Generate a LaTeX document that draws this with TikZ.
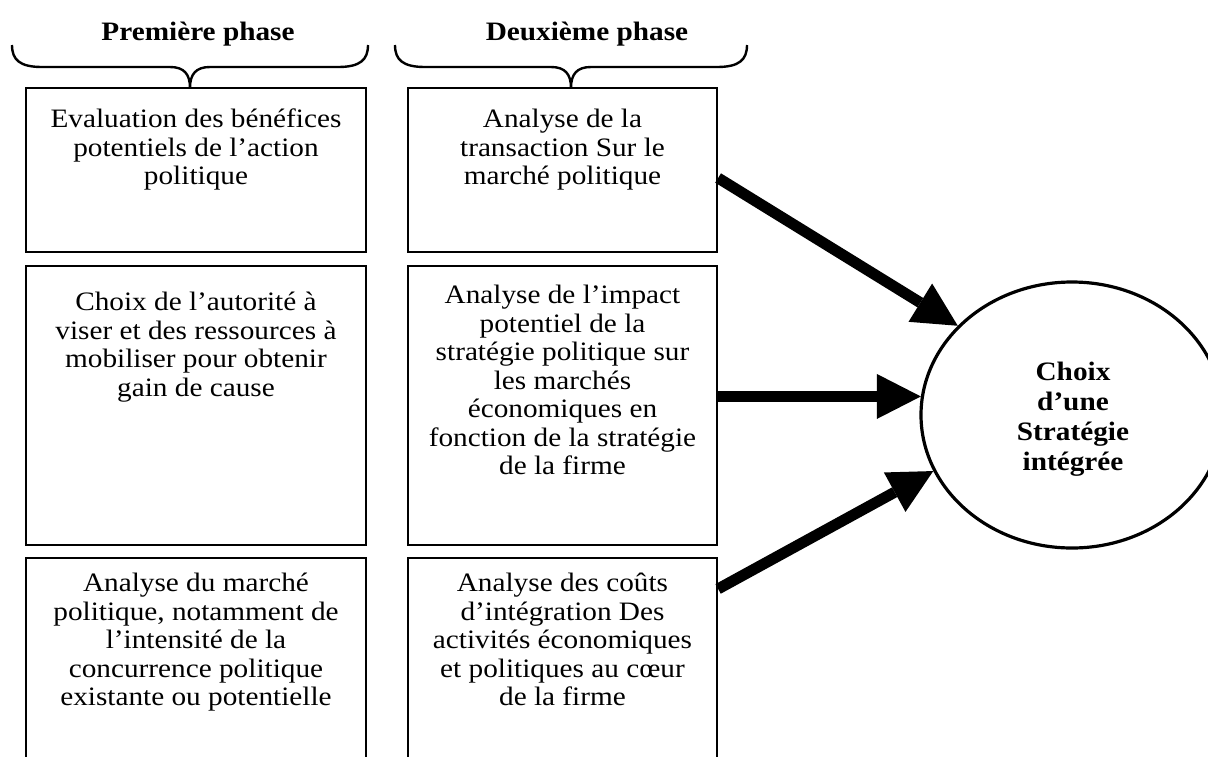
\documentclass[tikz,border=0pt]{standalone}
\usepackage{fontspec}
\setmainfont{Liberation Serif}[FakeStretch=1.1]
\usepackage{tikz}
\usetikzlibrary{arrows.meta,positioning,shapes.geometric}

\begin{document}
\begin{tikzpicture}[
  x=1pt, y=-1pt,
  every node/.style={inner sep=0pt, font=\fontsize{26.6}{28.5}\selectfont},
  cell/.style={draw, line width=2.2pt},
  celltext/.style={align=center, execute at begin node=\strut},
  phase/.style={anchor=base, font=\fontsize{26.6}{28.5}\selectfont\bfseries},
  bracket/.style={line width=2.4pt},
  link/.style={line width=11pt, -{Triangle[length=44pt, width=45pt, line width=0pt]}}
]
\useasboundingbox (0,0) rectangle (1208,756);

\node[phase] (ph1) at (198,40) {Première phase};
\node[phase] (ph2) at (587,40) {Deuxième phase};

\foreach \c/\h in {190/178, 571/176}
  \draw[bracket] ({\c-\h},45) .. controls ({\c-\h},60) and ({\c-\h+8},67) .. ({\c-\h+30},67)
    -- ({\c-20},67) .. controls ({\c-6},67) and (\c,74) .. (\c,88)
    .. controls (\c,74) and ({\c+6},67) .. ({\c+20},67)
    -- ({\c+\h-30},67) .. controls ({\c+\h-8},67) and ({\c+\h},60) .. ({\c+\h},45);

\node[cell, minimum width=340pt, minimum height=164pt] (tl) at (196,170) {};
\node[cell, minimum width=340pt, minimum height=279pt] (ml) at (196,405.5) {};
\node[cell, minimum width=340pt, minimum height=204pt] (bl) at (196,660) {};
\node[cell, minimum width=309pt, minimum height=164pt] (tr) at (562.5,170) {};
\node[cell, minimum width=309pt, minimum height=279pt] (mr) at (562.5,405.5) {};
\node[cell, minimum width=309pt, minimum height=204pt] (br) at (562.5,660) {};

\node[celltext, below=22pt of tl.north] (tltext) {Evaluation des bénéfices\\potentiels de l’action\\politique};
\node[celltext, below=27pt of ml.north] (mltext) {Choix de l’autorité à\\viser et des ressources à\\mobiliser pour obtenir\\gain de cause};
\node[celltext, below=16pt of bl.north] (bltext) {Analyse du marché\\politique, notamment de\\l’intensité de la\\concurrence politique\\existante ou potentielle};
\node[celltext, below=22pt of tr.north] (trtext) {Analyse de la\\transaction Sur le\\marché politique};
\node[celltext, below=20pt of mr.north] (mrtext) {Analyse de l’impact\\potentiel de la\\stratégie politique sur\\les marchés\\économiques en\\fonction de la stratégie\\de la firme};
\node[celltext, below=16pt of br.north] (brtext) {Analyse des coûts\\d’intégration Des\\activités économiques\\et politiques au cœur\\de la firme};

\node[ellipse, draw, line width=3.2pt, minimum width=302pt, minimum height=266pt] (goal) at (1072,415) {};
\node[celltext, anchor=north, font=\fontsize{26.6}{30}\selectfont\bfseries] (goaltext) at (1073,362) {Choix\\d’une\\Stratégie\\intégrée};

\draw[link] ([yshift=-8pt]tr.east) -- (goal.142);
\draw[link] (mr.east |- goal.173) -- (goal.173);
\draw[link] ([yshift=-32pt]br.north east) -- (goal.202);
\end{tikzpicture}
\end{document}
